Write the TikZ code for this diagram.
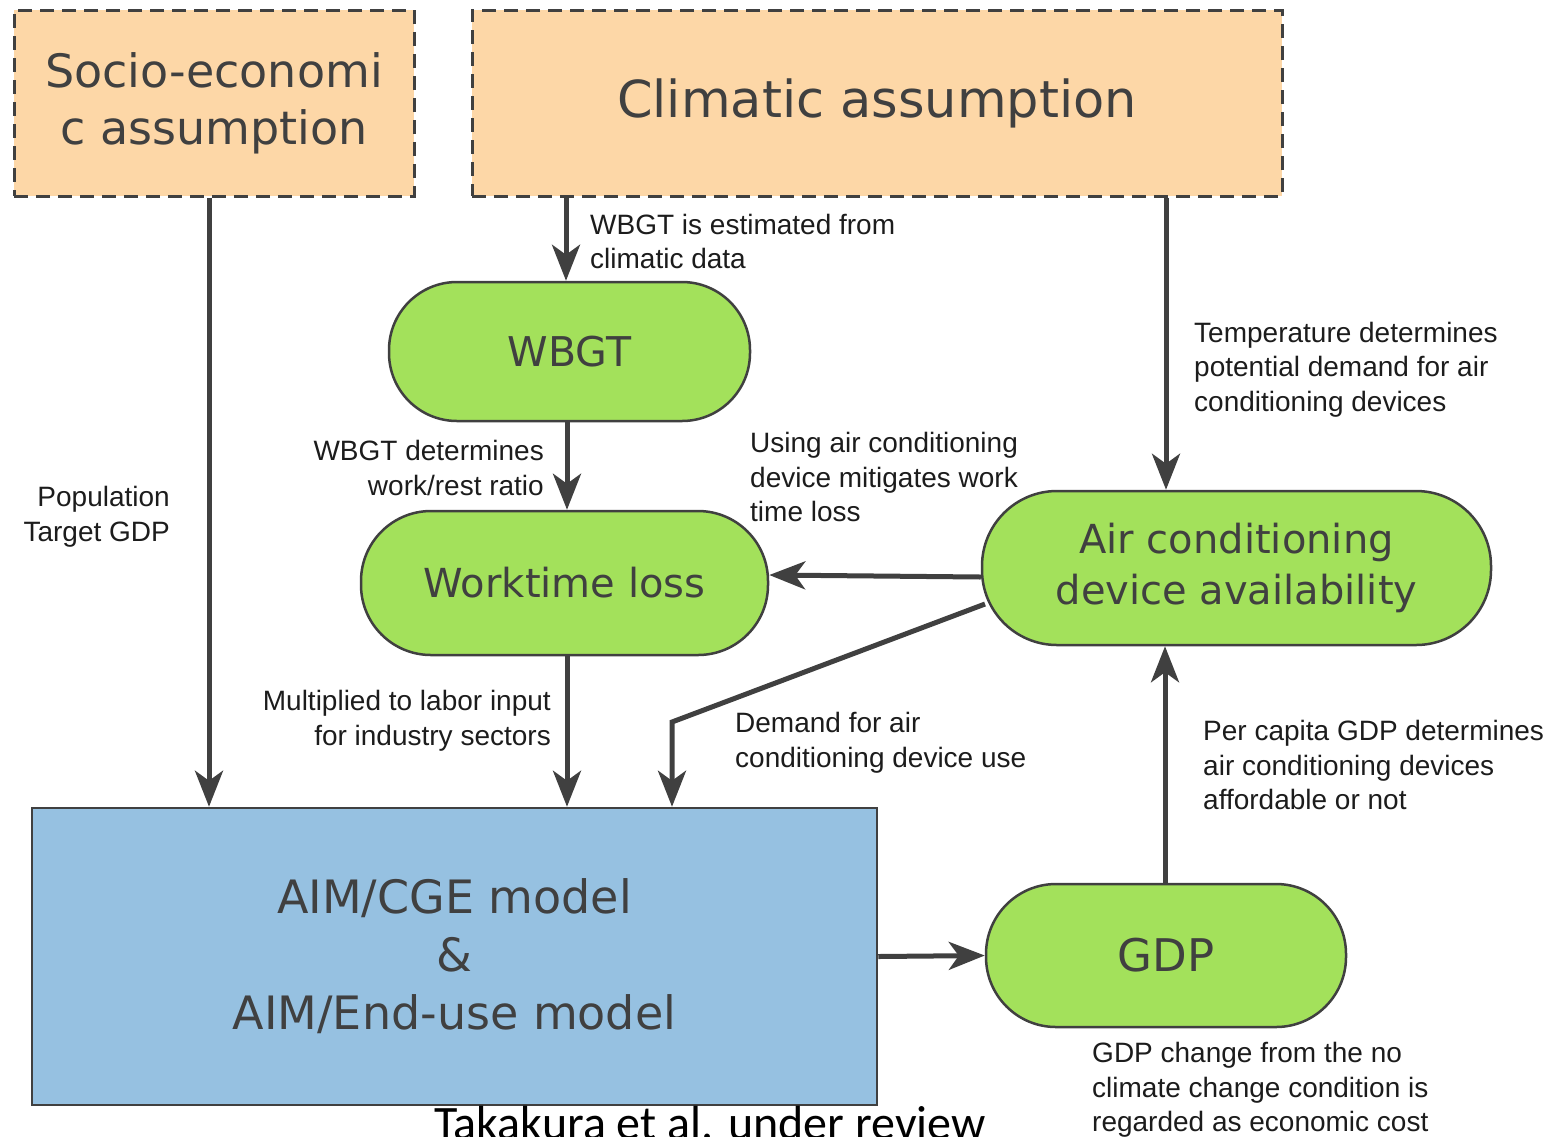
\documentclass[tikz,border=0pt]{standalone}
\usepackage{fontspec}
\setmainfont{DejaVu Sans}
\newfontfamily\labelfont{Liberation Sans}
\newfontfamily\notefont{Carlito}
\usetikzlibrary{arrows.meta}

\definecolor{peach}{HTML}{FDD7A7}
\definecolor{leaf}{HTML}{A3E15B}
\definecolor{sky}{HTML}{96C1E1}
\definecolor{ink}{HTML}{404040}
\definecolor{txt}{HTML}{1C1C1C}

\begin{document}
\begin{tikzpicture}[x=1pt,y=-1pt,
  assume/.style={draw=ink, line width=3pt, dash pattern=on 14pt off 8pt,
    fill=peach, text=ink, inner sep=0pt, align=center},
  pill/.style={draw=ink, line width=2.5pt, fill=leaf, text=ink,
    inner sep=0pt, align=center},
  model/.style={draw=ink, line width=2.5pt, fill=sky, text=ink,
    inner sep=0pt, align=center},
  arr/.style={draw=ink, line width=5pt,
    -{Stealth[length=36pt,width=28pt,inset=10pt]}},
  lbl/.style={font=\labelfont\fontsize{28}{34.5}\selectfont, text=txt,
    inner sep=0pt},
]
\useasboundingbox (0,0) rectangle (1546,1136);
\clip (0,0) rectangle (1546,1136);

% assumption boxes
\node[assume, minimum width=400pt, minimum height=186pt,
  font=\fontsize{46}{57}\selectfont] (socio) at (214,103)
  {Socio-economi\\c assumption};
\node[assume, minimum width=810pt, minimum height=186pt,
  font=\fontsize{51}{60}\selectfont] (clim) at (877,103)
  {Climatic assumption};

% intermediate quantities
\node[pill, minimum width=361pt, minimum height=139pt, rounded corners=68pt,
  font=\fontsize{41}{50}\selectfont] (wbgt) at (569.5,351.5) {WBGT};
\node[pill, minimum width=407pt, minimum height=144pt, rounded corners=70pt,
  font=\fontsize{40}{50}\selectfont] (wl) at (564.5,583) {Worktime loss};
\node[pill, minimum width=509pt, minimum height=154pt, rounded corners=75pt,
  font=\fontsize{40}{51}\selectfont] (ac) at (1236.5,568)
  {Air conditioning\\device availability};
\node[pill, minimum width=360pt, minimum height=143pt, rounded corners=70pt,
  font=\fontsize{45}{55}\selectfont] (gdp) at (1166,955.5) {GDP};

% model box
\node[model, minimum width=845pt, minimum height=297pt,
  font=\fontsize{46}{58}\selectfont] (aim) at (454.5,956.5)
  {AIM/CGE model\\\&\\AIM/End-use model};

% connectors
\coordinate (acout) at (985,604);
\coordinate (bend) at (672,722);
\draw[arr] ([xshift=-5pt]socio.south) -- ([xshift=-5pt]socio.south |- aim.north);
\draw[arr] (clim.south -| 566,0) -- (wbgt.north -| 566,0);
\draw[arr] (clim.south -| gdp.north) -- (ac.north -| gdp.north);
\draw[arr] (wbgt.south -| 567,0) -- (wl.north -| 567,0);
\draw[arr] (wl.south -| 567,0) -- (aim.north -| 567,0);
\draw[arr] ([yshift=-9pt]ac.west) -- ([yshift=8pt]wl.east);
\draw[arr] (acout) -- (bend) -- (bend |- aim.north);
\draw[arr] (aim.east) -- (gdp.west);
\draw[arr] ([xshift=-1pt]gdp.north) -- ([xshift=-1pt]gdp.north |- ac.south);

% connector labels
\node[lbl, anchor=north west, align=left] (l1) at (590,214)
  {WBGT is estimated from\\climatic data};
\node[lbl, anchor=north west, align=left] (l2) at (1194,322)
  {Temperature determines\\potential demand for air\\conditioning devices};
\node[lbl, anchor=north east, align=right] (l3) at (544,440)
  {WBGT determines\\work/rest ratio};
\node[lbl, anchor=north west, align=left] (l4) at (750,432)
  {Using air conditioning\\device mitigates work\\time loss};
\node[lbl, anchor=north east, align=right] (l5) at (170,486)
  {Population\\Target GDP};
\node[lbl, anchor=north east, align=right] (l6) at (551,690)
  {Multiplied to labor input\\for industry sectors};
\node[lbl, anchor=north west, align=left] (l7) at (735,712)
  {Demand for air\\conditioning device use};
\node[lbl, anchor=north west, align=left] (l8) at (1203,720)
  {Per capita GDP determines\\air conditioning devices\\affordable or not};
\node[lbl, anchor=north west, align=left] (l9) at (1092,1042)
  {GDP change from the no\\climate change condition is\\regarded as economic cost};

% source note
\node[font=\notefont\fontsize{48}{58}\selectfont, text=black, inner sep=0pt,
  anchor=base] (src) at (710,1139) {Takakura et al. under review};
\end{tikzpicture}
\end{document}
